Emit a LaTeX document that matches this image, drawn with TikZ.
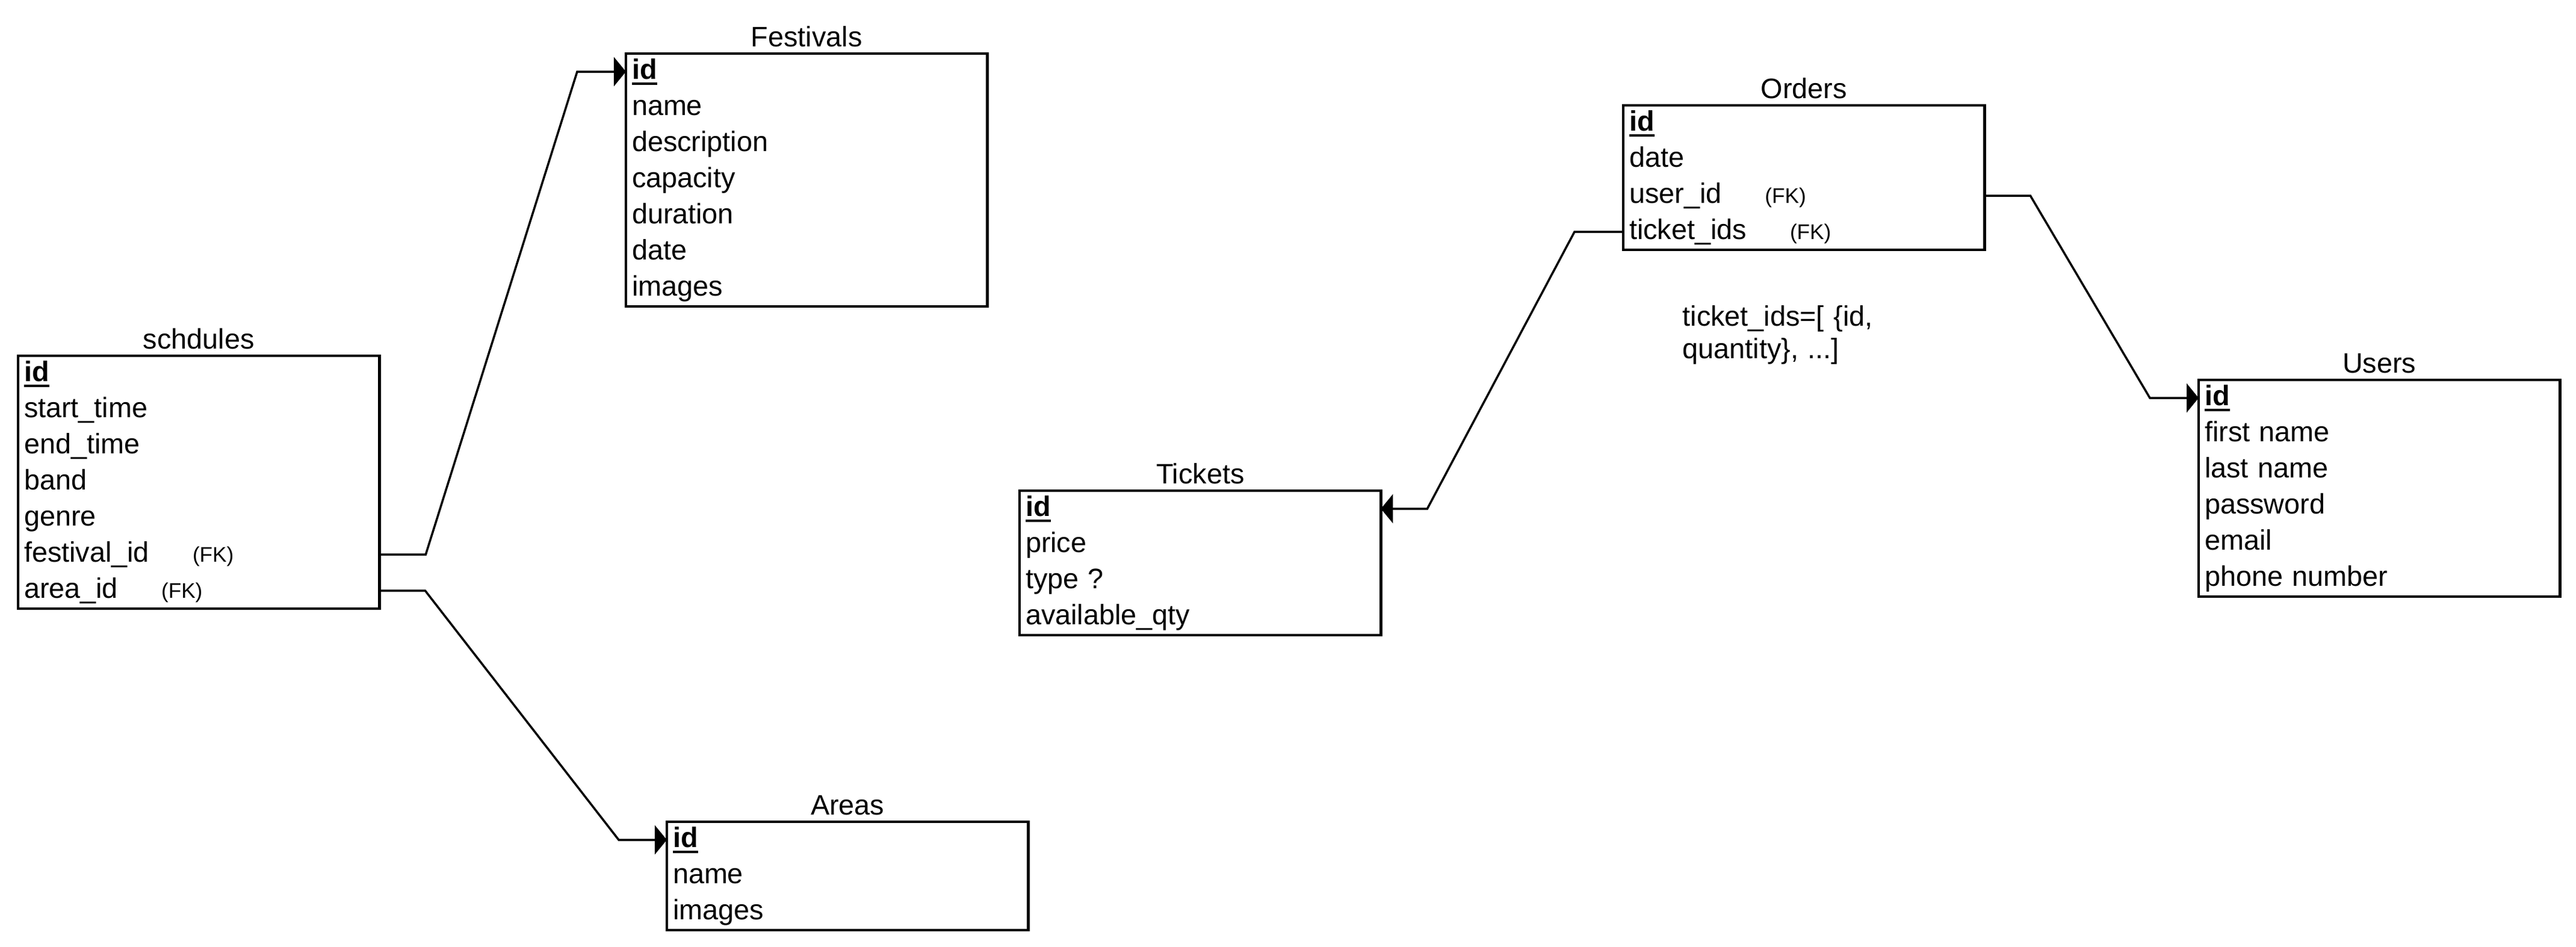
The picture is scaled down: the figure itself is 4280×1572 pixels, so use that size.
\documentclass[tikz,border=0pt]{standalone}
\usepackage{fontspec}
\setmainfont{Liberation Sans}
\usetikzlibrary{arrows.meta}
\newcommand{\fksize}{\fontsize{10}{12}\selectfont}
\newcommand{\fkmark}{\hspace{0.72cm}{\fksize (FK)}}
\newcommand{\pkey}[1]{\setbox0\hbox{\textbf{#1}}\rlap{\rule[-0.1cm]{\wd0}{0.04cm}}\box0}

\begin{document}
\begin{tikzpicture}[x=0.01cm, y=-0.01cm, >={Triangle[length=0.2cm, width=0.48cm]},
    font=\fontsize{13.3}{15.6}\selectfont,
    field/.style={anchor=north west, minimum width=6cm, minimum height=0.6cm, text width=5.8cm, align=left,
        inner xsep=0.1cm, inner ysep=0pt, outer sep=0pt, text height=0.34cm, text depth=0.1cm},
    tabletitle/.style={anchor=base, inner sep=0pt},
    tablebox/.style={line width=1.3pt},
    fkline/.style={line width=1pt},
    note/.style={anchor=base west, text width=4cm, align=left, inner sep=0pt}]
    \useasboundingbox (0, 0) rectangle (4280, 1572);
    % schdules
    \node [field] (schId) at (30, 591) {\pkey{id}};
    \node [field] (schStart) at (30, 651) {start\_time};
    \node [field] (schEnd) at (30, 711) {end\_time};
    \node [field] (schBand) at (30, 771) {band};
    \node [field] (schGenre) at (30, 831) {genre};
    \node [field] (schFest) at (30, 891) {festival\_id\fkmark};
    \node [field] (schArea) at (30, 951) {area\_id\fkmark};
    \draw [tablebox] (schId.north west) rectangle (schArea.south east);
    \node [tabletitle] (schTitle) at ([yshift=0.12cm]schId.north) {schdules};
    % Festivals
    \node [field] (fesId) at (1040, 89) {\pkey{id}};
    \node [field] (fesName) at (1040, 149) {name};
    \node [field] (fesDesc) at (1040, 209) {description};
    \node [field] (fesCap) at (1040, 269) {capacity};
    \node [field] (fesDur) at (1040, 329) {duration};
    \node [field] (fesDate) at (1040, 389) {date};
    \node [field] (fesImg) at (1040, 449) {images};
    \draw [tablebox] (fesId.north west) rectangle (fesImg.south east);
    \node [tabletitle] (fesTitle) at ([yshift=0.12cm]fesId.north) {Festivals};
    % Areas
    \node [field] (areId) at (1108, 1365) {\pkey{id}};
    \node [field] (areName) at (1108, 1425) {name};
    \node [field] (areImg) at (1108, 1485) {images};
    \draw [tablebox] (areId.north west) rectangle (areImg.south east);
    \node [tabletitle] (areTitle) at ([yshift=0.12cm]areId.north) {Areas};
    % Tickets
    \node [field] (tikId) at (1694, 815) {\pkey{id}};
    \node [field] (tikPrice) at (1694, 875) {price};
    \node [field] (tikType) at (1694, 935) {type ?};
    \node [field] (tikQty) at (1694, 995) {available\_qty};
    \draw [tablebox] (tikId.north west) rectangle (tikQty.south east);
    \node [tabletitle] (tikTitle) at ([yshift=0.12cm]tikId.north) {Tickets};
    % Orders
    \node [field] (ordId) at (2697, 175) {\pkey{id}};
    \node [field] (ordDate) at (2697, 235) {date};
    \node [field] (ordUser) at (2697, 295) {user\_id\fkmark};
    \node [field] (ordTick) at (2697, 355) {ticket\_ids\fkmark};
    \draw [tablebox] (ordId.north west) rectangle (ordTick.south east);
    \node [tabletitle] (ordTitle) at ([yshift=0.12cm]ordId.north) {Orders};
    \node [note] (ordNote) at (2795, 541) {ticket\_ids=[ \{id,\\quantity\}, ...]};
    % Users
    \node [field] (usrId) at (3653, 631) {\pkey{id}};
    \node [field] (usrFirst) at (3653, 691) {first name};
    \node [field] (usrLast) at (3653, 751) {last name};
    \node [field] (usrPass) at (3653, 811) {password};
    \node [field] (usrMail) at (3653, 871) {email};
    \node [field] (usrPhone) at (3653, 931) {phone number};
    \draw [tablebox] (usrId.north west) rectangle (usrPhone.south east);
    \node [tabletitle] (usrTitle) at ([yshift=0.12cm]usrId.north) {Users};
    % foreign keys
    \draw [->, fkline] (schFest.east) -- ++(77, 0) -- ([xshift=-0.81cm]fesId.west) -- (fesId.west);
    \draw [->, fkline] (schArea.east) -- ++(76, 0) -- ([xshift=-0.8cm]areId.west) -- (areId.west);
    \draw [->, fkline] (ordUser.east) -- ++(76, 0) -- ([xshift=-0.81cm]usrId.west) -- (usrId.west);
    \draw [->, fkline] (ordTick.west) -- ++(-81, 0) -- ([xshift=0.77cm]tikId.east) -- (tikId.east);
\end{tikzpicture}
\end{document}
